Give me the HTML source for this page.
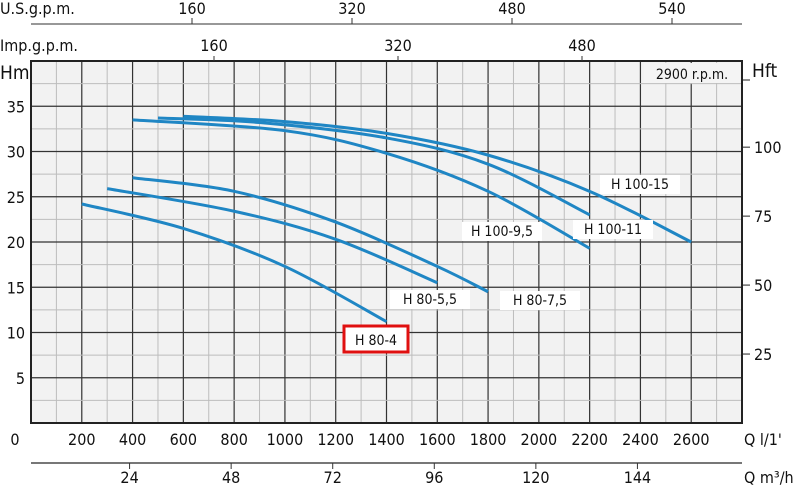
<!DOCTYPE html>
<html><head><meta charset="utf-8"><style>
html,body{margin:0;padding:0;background:#fff;width:800px;height:485px;overflow:hidden}
svg text{font-family:"DejaVu Sans Condensed","DejaVu Sans","Liberation Sans",sans-serif;fill:#111}
</style></head><body>
<svg id="chart" width="800" height="485" viewBox="0 0 800 485" xmlns="http://www.w3.org/2000/svg"></svg>
<script>
const seriesNames = ["H 100-15","H 100-11","H 100-9,5","H 80-7,5","H 80-5,5","H 80-4"];
const flowH10015 = [600,1000,1400,1800,2200,2600];
const headH10015 = [33.9,33.3,32.0,29.6,25.6,20.0];
const flowH10011 = [500,900,1400,1800,2200];
const headH10011 = [33.7,33.2,31.5,28.6,23.0];
const flowH1009 = [400,1000,1400,1800,2200];
const headH1009 = [33.5,32.3,29.8,25.6,19.3];
const flowH807 = [400,800,1200,1600,1800];
const headH807 = [27.1,25.6,22.2,17.3,14.5];
const flowH805 = [300,800,1200,1600];
const headH805 = [25.9,23.4,20.3,15.5];
const flowH804 = [200,600,1000,1400];
const headH804 = [24.2,21.5,17.3,11.2];
const xTicks = [0,200,400,600,800,1000,1200,1400,1600,1800,2000,2200,2400,2600];
const yTicks = [5,10,15,20,25,30,35];
const ftTicks = [25,50,75,100];
const m3Ticks = [24,48,72,96,120,144];
const impTicks = [160,320,480];
const usTickVals = [160,320,480,640];
const usTickLabels = ["160","320","480","540"];

const NS="http://www.w3.org/2000/svg", svg=document.getElementById('chart');
const L=31, R=742, T=61, B=423;
const x=v=>L+(v/2800)*(R-L);
const y=v=>B-(v/40)*(B-T);
function mk(tag,attrs,parent){const e=document.createElementNS(NS,tag);for(const k in attrs)e.setAttribute(k,attrs[k]);(parent||svg).appendChild(e);return e;}
function txt(s,xx,yy,anchor,size){const t=mk('text',{x:xx,y:yy,'text-anchor':anchor||'middle','font-size':size||16});t.textContent=s;return t;}

const bg=mk('rect',{x:L,y:T,width:R-L,height:B-T,fill:'#f2f2f2'});


for(let v=100;v<2800;v+=100){const l=mk('line',{x1:x(v),x2:x(v),y1:T,y2:B,stroke:v%200?'#bdbdbd':'#333','stroke-width':v%200?1:1.2});

}
for(let v=2.5;v<40;v+=2.5){const l=mk('line',{x1:L,x2:R,y1:y(v),y2:y(v),stroke:v%5?'#bdbdbd':'#333','stroke-width':v%5?1:1.2});

}
const fr=mk('rect',{x:L,y:T,width:R-L,height:B-T,fill:'none',stroke:'#222','stroke-width':2});



const flows=[flowH10015,flowH10011,flowH1009,flowH807,flowH805,flowH804];
const heads=[headH10015,headH10011,headH1009,headH807,headH805,headH804];
function pathFor(fx,hy){const p=fx.map((f,i)=>[x(f),y(hy[i])]);let d='M'+p[0];
for(let i=0;i<p.length-1;i++){const p0=p[i-1]||p[i],p1=p[i],p2=p[i+1],p3=p[i+2]||p2;
d+=` C${p1[0]+(p2[0]-p0[0])/6},${p1[1]+(p2[1]-p0[1])/6} ${p2[0]-(p3[0]-p1[0])/6},${p2[1]-(p3[1]-p1[1])/6} ${p2[0]},${p2[1]}`;}return d;}
seriesNames.forEach((n,i)=>{const c=mk('path',{d:pathFor(flows[i],heads[i]),fill:'none',stroke:'#1f86c4','stroke-width':3});

});

const lab=[["H 100-15",640,189],["H 100-11",613,234],["H 100-9,5",502,236],["H 80-7,5",540,305],["H 80-5,5",430,304]];
lab.forEach(a=>{const r=mk('rect',{x:a[1]-40,y:a[2]-14,width:80,height:19,fill:'#fff'});


const t=txt(a[0],a[1],a[2],'middle',14);

});
const hb=mk('rect',{x:344,y:326,width:64,height:26,fill:'#fff',stroke:'#e01010','stroke-width':3});


const ht=txt('H 80-4',376,345,'middle',14);


const rb=mk('rect',{x:644,y:63,width:96,height:20,fill:'#f4f4f4'});


const rt=txt('2900 r.p.m.',692,79,'middle',14);



yTicks.forEach(v=>{const t=txt(String(v),25,y(v)+6,'end',16);

});
const hm=txt('Hm',0,79,'start',19);


ftTicks.forEach(v=>{const yy=y(v*0.3048);
const l=mk('line',{x1:743,x2:750,y1:yy,y2:yy,stroke:'#222'});


const t=txt(String(v),754,yy+6,'start',16);

});
const hf=txt('Hft',752,77,'start',19);


const hfl=mk('line',{x1:743,x2:750,y1:80,y2:80,stroke:'#222'});



xTicks.forEach(v=>{const t=txt(String(v),v===0?15:x(v),445,'middle',16);

});
const ql=txt("Q l/1'",744,445,'start',16);


const ma=mk('line',{x1:L,x2:R,y1:463,y2:463,stroke:'#777','stroke-width':2});


m3Ticks.forEach(v=>{const xx=x(v*1000/60)-3;
const l=mk('line',{x1:xx,x2:xx,y1:463,y2:469,stroke:'#333'});


const t=txt(String(v),xx,483,'middle',16);

});
const qm=txt('Q m³/h',744,483,'start',16);



impTicks.forEach(v=>{const xx=30+v*1.15;
const l=mk('line',{x1:xx,x2:xx,y1:56,y2:61,stroke:'#333'});


const t=txt(String(v),xx,51,'middle',16);

});
const ig=txt('Imp.g.p.m.',0,51,'start',16);


const ua=mk('line',{x1:L,x2:R,y1:24,y2:24,stroke:'#777','stroke-width':1.5});


usTickVals.forEach((v,i)=>{const xx=32+v;
const l=mk('line',{x1:xx,x2:xx,y1:18,y2:24,stroke:'#333'});


const t=txt(usTickLabels[i],xx,14,'middle',16);

});
const ug=txt('U.S.g.p.m.',0,14,'start',16);


</script>
</body></html>
